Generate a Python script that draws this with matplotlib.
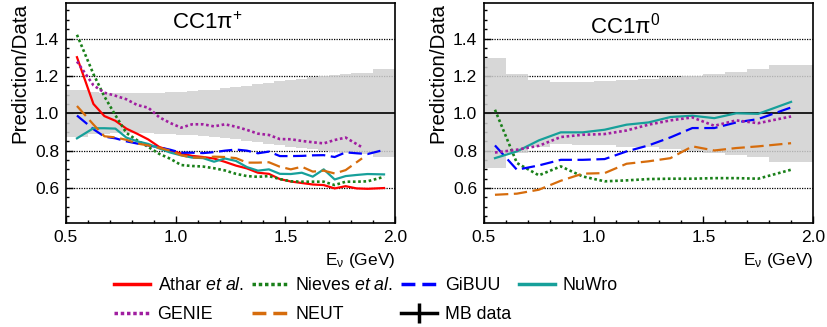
import matplotlib
matplotlib.use('Agg')
import matplotlib.pyplot as plt
from matplotlib.lines import Line2D
from matplotlib.ticker import MultipleLocator, FormatStrFormatter

plt.rcParams['font.family'] = ['Liberation Sans', 'DejaVu Sans']
plt.rcParams['mathtext.fontset'] = 'custom'
plt.rcParams['mathtext.rm'] = 'Liberation Sans'
plt.rcParams['mathtext.it'] = 'Liberation Sans:italic'
plt.rcParams['mathtext.sf'] = 'Liberation Sans'

# CC1pi+ panel (ratio prediction / MiniBooNE data)
x_plus = [0.55, 0.625, 0.675, 0.725, 0.775, 0.825, 0.875, 0.925, 0.975, 1.025,
          1.075, 1.125, 1.175, 1.225, 1.275, 1.325, 1.375, 1.425, 1.475, 1.525,
          1.575, 1.625, 1.675, 1.725, 1.775, 1.825, 1.875, 1.95]
x_plus_short = [0.55, 0.625, 0.675, 0.725, 0.775, 0.825, 0.875, 0.925, 0.975, 1.025,
                1.075, 1.125, 1.175, 1.225, 1.275, 1.325, 1.375, 1.425, 1.475, 1.525,
                1.575, 1.625, 1.675, 1.725, 1.775, 1.85]
edges_plus = [0.5, 0.6, 0.65, 0.7, 0.75, 0.8, 0.85, 0.9, 0.95, 1.0, 1.05, 1.1, 1.15,
              1.2, 1.25, 1.3, 1.35, 1.4, 1.45, 1.5, 1.55, 1.6, 1.65, 1.7, 1.75, 1.8,
              1.85, 1.9, 2.0]
err_plus = [0.126, 0.112, 0.110, 0.108, 0.106, 0.106, 0.107, 0.109, 0.112, 0.115,
            0.118, 0.122, 0.126, 0.133, 0.140, 0.148, 0.156, 0.164, 0.172, 0.178,
            0.186, 0.193, 0.200, 0.205, 0.210, 0.215, 0.218, 0.236]

athar_plus = [1.30, 1.05, 0.985, 0.96, 0.918, 0.89, 0.86, 0.82, 0.80, 0.785,
              0.772, 0.766, 0.758, 0.74, 0.72, 0.705, 0.682, 0.676, 0.648, 0.635,
              0.627, 0.619, 0.616, 0.598, 0.61, 0.598, 0.596, 0.60]
nieves_plus = [1.42, 1.21, 1.09, 0.99, 0.895, 0.855, 0.82, 0.783, 0.757, 0.723,
               0.718, 0.715, 0.706, 0.694, 0.676, 0.664, 0.66, 0.664, 0.648, 0.636,
               0.634, 0.634, 0.634, 0.616, 0.634, 0.634, 0.636, 0.66]
gibuu_plus = [0.988, 0.915, 0.875, 0.866, 0.85, 0.838, 0.828, 0.818, 0.805, 0.789,
              0.789, 0.787, 0.792, 0.80, 0.806, 0.80, 0.786, 0.795, 0.771, 0.771,
              0.772, 0.775, 0.776, 0.766, 0.791, 0.786, 0.782, 0.804]
nuwro_plus = [0.866, 0.92, 0.92, 0.918, 0.87, 0.85, 0.836, 0.812, 0.79, 0.775,
              0.763, 0.76, 0.741, 0.758, 0.745, 0.712, 0.693, 0.70, 0.676, 0.675,
              0.682, 0.661, 0.70, 0.646, 0.664, 0.67, 0.675, 0.673]
genie_plus = [1.277, 1.15, 1.11, 1.094, 1.075, 1.044, 1.03, 0.979, 0.948, 0.923,
              0.941, 0.941, 0.93, 0.941, 0.928, 0.911, 0.891, 0.884, 0.862, 0.861,
              0.852, 0.845, 0.839, 0.857, 0.87, 0.818]
neut_plus = [1.039, 0.94, 0.877, 0.871, 0.858, 0.838, 0.828, 0.815, 0.80, 0.776,
             0.763, 0.763, 0.768, 0.766, 0.76, 0.736, 0.736, 0.738, 0.714, 0.70,
             0.714, 0.688, 0.693, 0.678, 0.696, 0.759]

# CC1pi0 panel
x_zero = [0.55, 0.65, 0.75, 0.85, 0.95, 1.05, 1.15, 1.25, 1.35, 1.45, 1.55, 1.65, 1.75, 1.9]
edges_zero = [0.5, 0.6, 0.7, 0.8, 0.9, 1.0, 1.1, 1.2, 1.3, 1.4, 1.5, 1.6, 1.7, 1.8, 2.0]
err_zero = [0.295, 0.211, 0.18, 0.165, 0.168, 0.172, 0.178, 0.183, 0.192, 0.20,
            0.21, 0.222, 0.235, 0.258]

nieves_zero = [1.019, 0.734, 0.668, 0.716, 0.662, 0.636, 0.641, 0.648, 0.65, 0.65,
               0.653, 0.653, 0.65, 0.698]
gibuu_zero = [0.828, 0.698, 0.721, 0.751, 0.751, 0.755, 0.796, 0.828, 0.871, 0.921,
              0.921, 0.951, 0.969, 1.031]
nuwro_zero = [0.76, 0.796, 0.855, 0.898, 0.898, 0.912, 0.939, 0.951, 0.98, 0.987,
              0.974, 1.0, 0.997, 1.061]
genie_zero = [0.79, 0.805, 0.826, 0.873, 0.885, 0.889, 0.908, 0.939, 0.962, 0.978,
              0.933, 0.962, 0.947, 0.983]
neut_zero = [0.564, 0.57, 0.591, 0.639, 0.677, 0.68, 0.73, 0.743, 0.76, 0.823,
             0.801, 0.814, 0.823, 0.84]

RED = '#ff0000'
GREEN = '#1a801a'
BLUE = '#0000ff'
TEAL = '#17a09a'
PURPLE = '#a01ea0'
ORANGE = '#d66c0c'
LW = 1.6

fig = plt.figure(figsize=(8.28, 3.27), dpi=100)
ax1 = fig.add_axes([66 / 828, 1 - 223 / 327, 329 / 828, 220 / 327])
ax2 = fig.add_axes([484 / 828, 1 - 223 / 327, 329 / 828, 220 / 327])


def style_axis(ax, title):
    ax.set_xlim(0.5, 2.0)
    ax.set_ylim(0.413, 1.59)
    ax.xaxis.set_major_locator(MultipleLocator(0.5))
    ax.xaxis.set_minor_locator(MultipleLocator(0.1))
    ax.yaxis.set_major_locator(MultipleLocator(0.2))
    ax.yaxis.set_minor_locator(MultipleLocator(0.05))
    ax.xaxis.set_major_formatter(FormatStrFormatter('%.1f'))
    ax.yaxis.set_major_formatter(FormatStrFormatter('%.1f'))
    ax.tick_params(which='both', direction='in', top=False, right=False,
                   labelsize=12.5, width=1)
    ax.tick_params(which='major', length=5, pad=5)
    ax.tick_params(which='minor', length=2.5)
    for sp in ax.spines.values():
        sp.set_linewidth(1.2)
    for yv in [0.6, 0.8, 1.2, 1.4]:
        ax.axhline(yv, color='black', lw=0.9, ls=(0, (1, 1)), zorder=1)
    ax.axhline(1.0, color='black', lw=1.2, zorder=4)
    ax.set_ylabel('Prediction/Data', fontsize=14.8, loc='top', labelpad=4)
    ax.set_xlabel(r'E$_\mathrm{ν}$ (GeV)', fontsize=12.5, loc='right', labelpad=4)
    ax.text(0.322, 0.955, title, transform=ax.transAxes, ha='left', va='top',
            fontsize=16)


# left panel
style_axis(ax1, r'CC1π$^{+}$')
lo = [1 - e for e in err_plus]
hi = [1 + e for e in err_plus]
ax1.stairs(hi, edges_plus, baseline=lo, fill=True, color='#d0d0d0', alpha=0.85,
           lw=0, zorder=2)
ax1.plot(x_plus, athar_plus, color=RED, lw=LW, zorder=5)
ax1.plot(x_plus, nieves_plus, color=GREEN, lw=LW + 0.3, ls=(0, (1, 1)), zorder=5)
ax1.plot(x_plus, gibuu_plus, color=BLUE, lw=LW, ls=(0, (6, 2.5)), zorder=5)
ax1.plot(x_plus, nuwro_plus, color=TEAL, lw=LW, zorder=5)
ax1.plot(x_plus_short, genie_plus, color=PURPLE, lw=LW + 0.3, ls=(0, (1, 1)), zorder=5)
ax1.plot(x_plus_short, neut_plus, color=ORANGE, lw=LW, ls=(0, (6, 2.5)), zorder=5)

# right panel
style_axis(ax2, r'CC1π$^{0}$')
lo = [1 - e for e in err_zero]
hi = [1 + e for e in err_zero]
ax2.stairs(hi, edges_zero, baseline=lo, fill=True, color='#d0d0d0', alpha=0.85,
           lw=0, zorder=2)
ax2.plot(x_zero, nieves_zero, color=GREEN, lw=LW + 0.3, ls=(0, (1, 1)), zorder=5)
ax2.plot(x_zero, gibuu_zero, color=BLUE, lw=LW, ls=(0, (6, 2.5)), zorder=5)
ax2.plot(x_zero, nuwro_zero, color=TEAL, lw=LW, zorder=5)
ax2.plot(x_zero, genie_zero, color=PURPLE, lw=LW + 0.3, ls=(0, (1, 1)), zorder=5)
ax2.plot(x_zero, neut_zero, color=ORANGE, lw=LW, ls=(0, (6, 2.5)), zorder=5)

# legend (column-wise fill: 4 columns, 2 rows)
handles = [
    Line2D([], [], color=RED, lw=2.5),
    Line2D([], [], color=PURPLE, lw=2.5, ls=(0, (1, 0.8))),
    Line2D([], [], color=GREEN, lw=2.5, ls=(0, (1, 0.8))),
    Line2D([], [], color=ORANGE, lw=2.5, ls=(0, (4, 2))),
    Line2D([], [], color=BLUE, lw=2.5, ls=(0, (4, 2))),
    Line2D([], [], color='black', lw=2.5, marker='|', ms=14, mew=2.5),
    Line2D([], [], color=TEAL, lw=2.5),
]
labels = [r'Athar $\it{et\ al.}$', 'GENIE', r'Nieves $\it{et\ al.}$', 'NEUT',
          'GiBUU', 'MB data', 'NuWro']
fig.legend(handles, labels, ncol=4, loc='upper left',
           bbox_to_anchor=(114 / 828, 1 - 277 / 327), frameon=False,
           fontsize=12.8, handlelength=2.0, handletextpad=0.45,
           columnspacing=0.45, labelspacing=0.7, borderpad=0, borderaxespad=0,
           numpoints=1)

fig.savefig('out.png', dpi=100)
